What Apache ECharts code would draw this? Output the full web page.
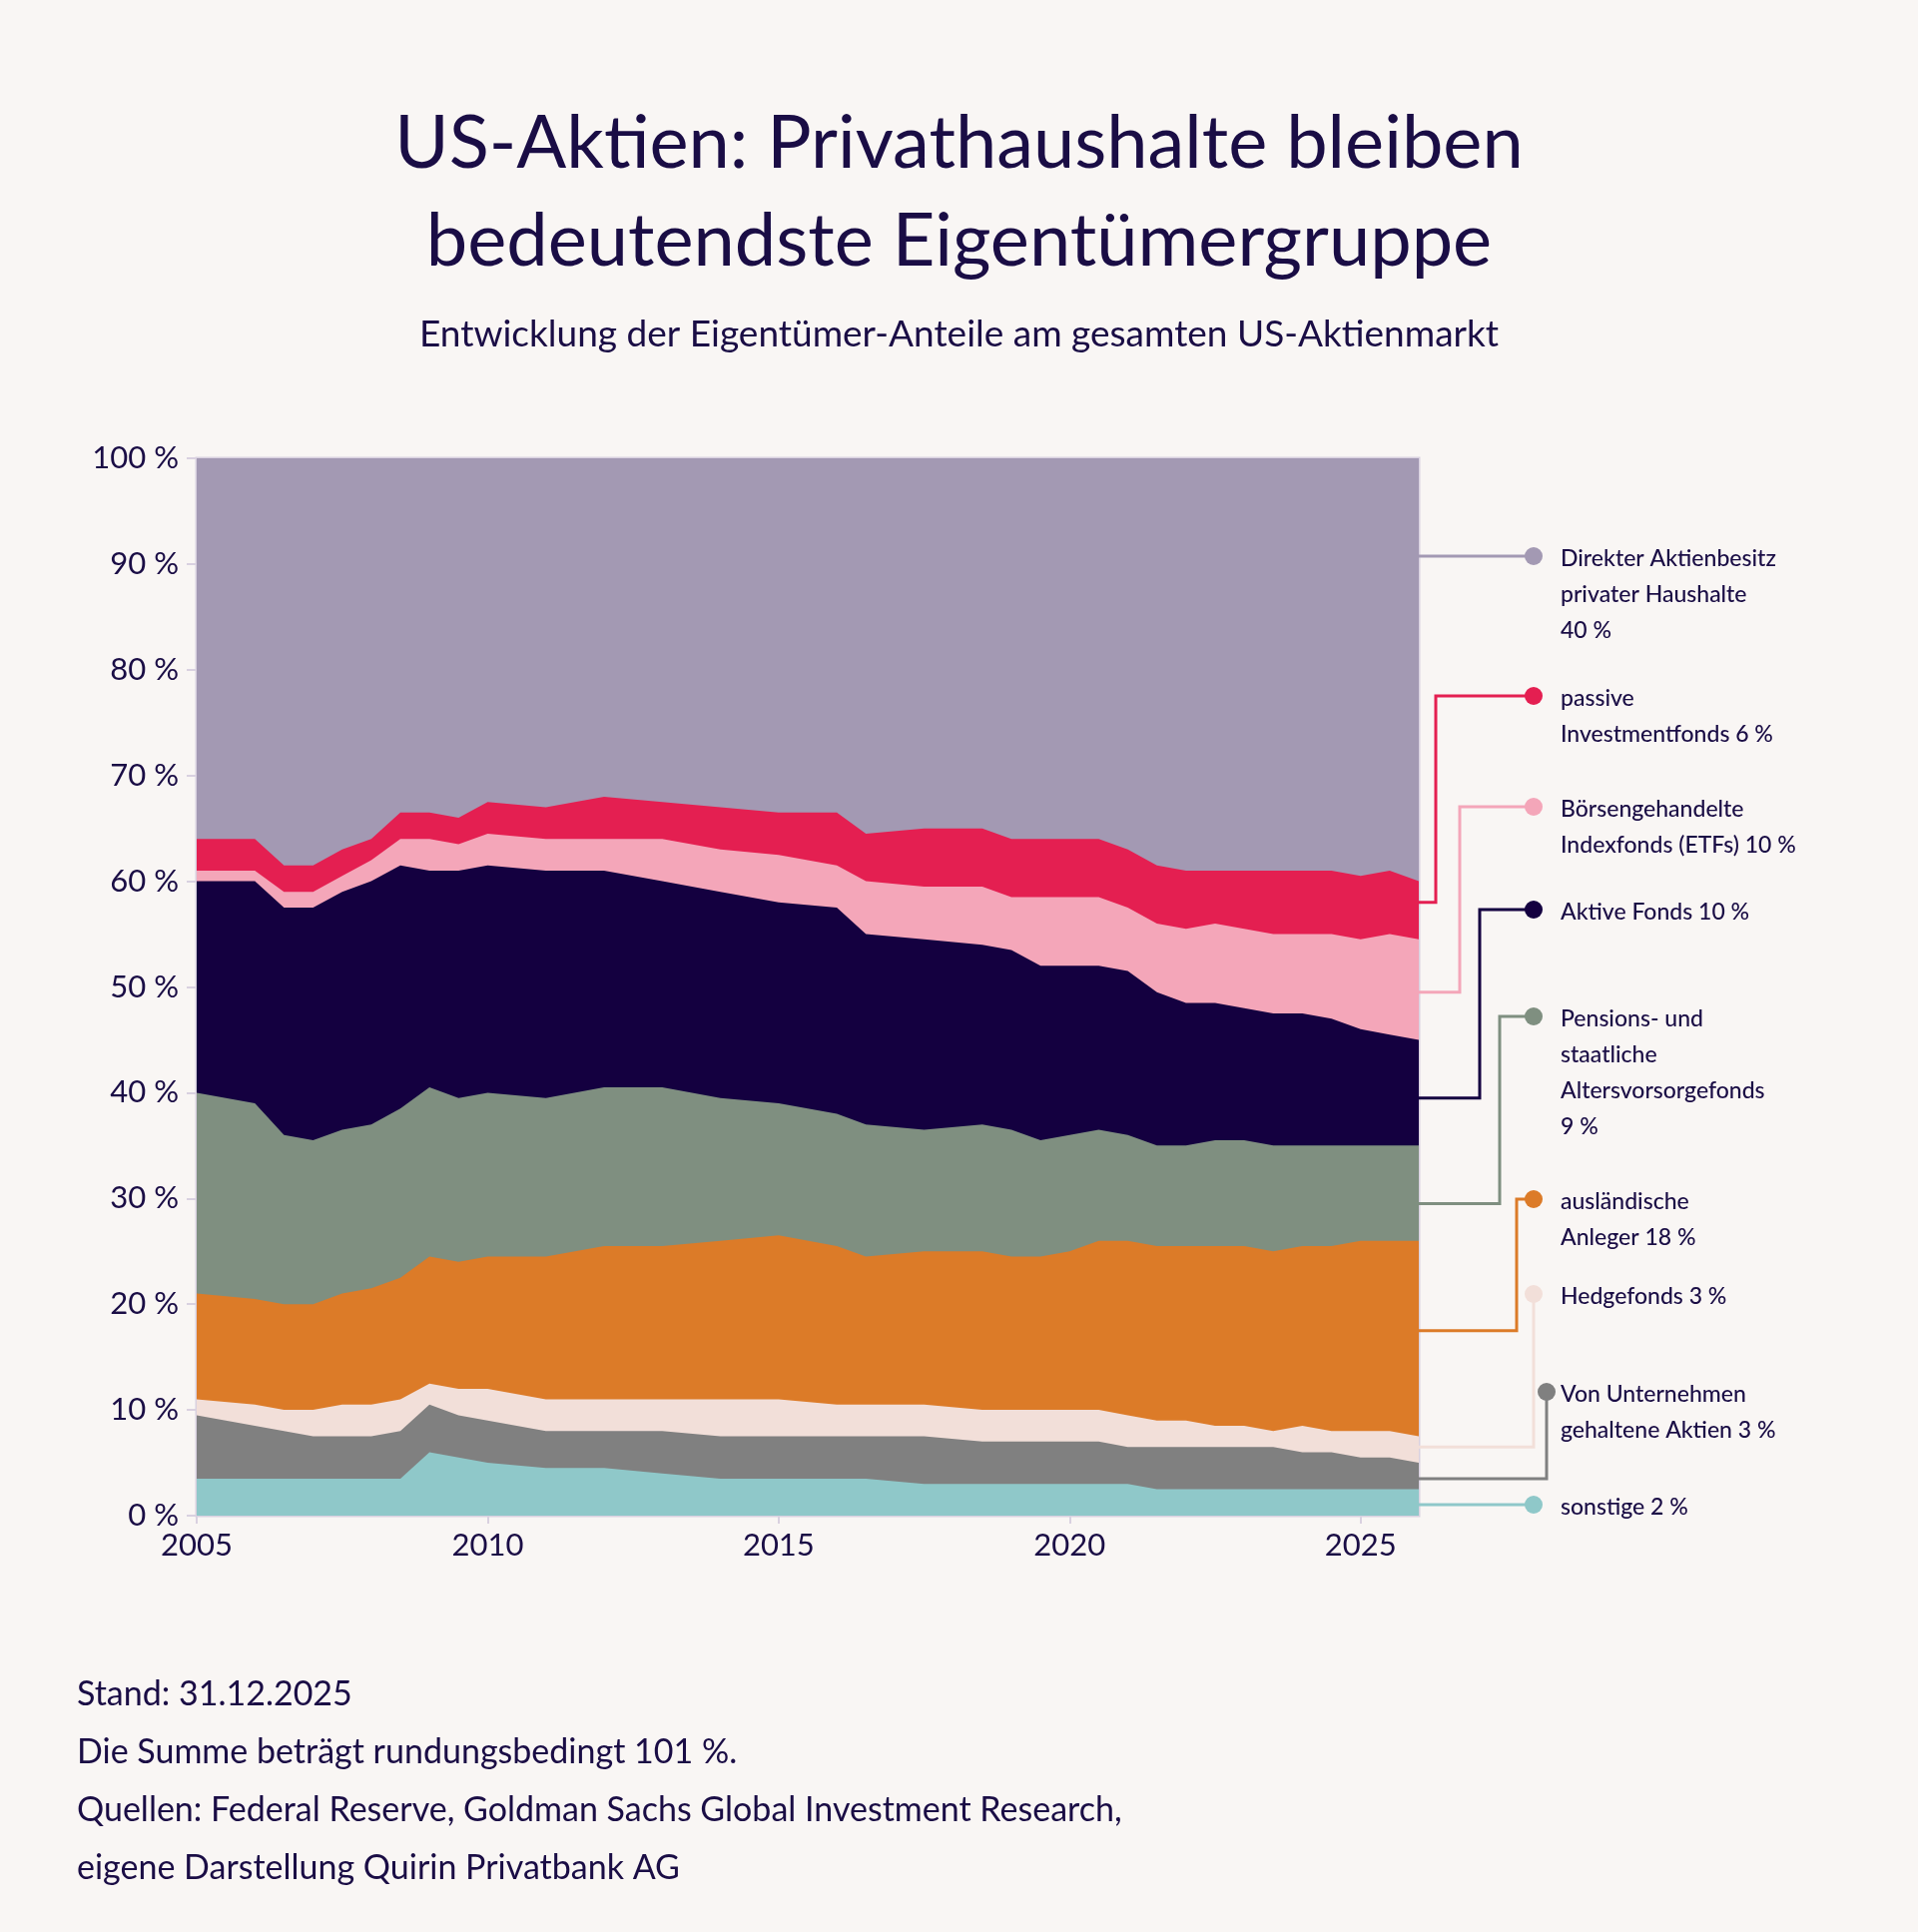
<!DOCTYPE html>
<html>
<head>
<meta charset="utf-8">
<script src="https://cdn.jsdelivr.net/npm/echarts@6/dist/echarts.min.js"></script>
<style>
  html, body { margin: 0; padding: 0; background: #f9f6f4; }
  #chart { width: 1921px; height: 1935px; }
</style>
</head>
<body>
<div id="chart"></div>
<script>
// Stichtage (Jahre) und obere Kante jeder Schicht in % (kumuliert)
const years = [2005, 2006, 2006.5, 2007, 2007.5, 2008, 2008.5, 2009, 2009.5, 2010, 2011, 2012, 2013, 2014, 2015, 2016, 2016.5, 2017.5, 2018.5, 2019, 2019.5, 2020, 2020.5, 2021, 2021.5, 2022, 2022.5, 2023, 2023.5, 2024, 2024.5, 2025, 2025.5, 2026];
const topSonstige    = [3.5, 3.5, 3.5, 3.5, 3.5, 3.5, 3.5, 6, 5.5, 5, 4.5, 4.5, 4, 3.5, 3.5, 3.5, 3.5, 3, 3, 3, 3, 3, 3, 3, 2.5, 2.5, 2.5, 2.5, 2.5, 2.5, 2.5, 2.5, 2.5, 2.5];
const topUnternehmen = [9.5, 8.5, 8, 7.5, 7.5, 7.5, 8, 10.5, 9.5, 9, 8, 8, 8, 7.5, 7.5, 7.5, 7.5, 7.5, 7, 7, 7, 7, 7, 6.5, 6.5, 6.5, 6.5, 6.5, 6.5, 6, 6, 5.5, 5.5, 5];
const topHedge       = [11, 10.5, 10, 10, 10.5, 10.5, 11, 12.5, 12, 12, 11, 11, 11, 11, 11, 10.5, 10.5, 10.5, 10, 10, 10, 10, 10, 9.5, 9, 9, 8.5, 8.5, 8, 8.5, 8, 8, 8, 7.5];
const topAusland     = [21, 20.5, 20, 20, 21, 21.5, 22.5, 24.5, 24, 24.5, 24.5, 25.5, 25.5, 26, 26.5, 25.5, 24.5, 25, 25, 24.5, 24.5, 25, 26, 26, 25.5, 25.5, 25.5, 25.5, 25, 25.5, 25.5, 26, 26, 26];
const topPension     = [40, 39, 36, 35.5, 36.5, 37, 38.5, 40.5, 39.5, 40, 39.5, 40.5, 40.5, 39.5, 39, 38, 37, 36.5, 37, 36.5, 35.5, 36, 36.5, 36, 35, 35, 35.5, 35.5, 35, 35, 35, 35, 35, 35];
const topAktiv       = [60, 60, 57.5, 57.5, 59, 60, 61.5, 61, 61, 61.5, 61, 61, 60, 59, 58, 57.5, 55, 54.5, 54, 53.5, 52, 52, 52, 51.5, 49.5, 48.5, 48.5, 48, 47.5, 47.5, 47, 46, 45.5, 45];
const topEtf         = [61, 61, 59, 59, 60.5, 62, 64, 64, 63.5, 64.5, 64, 64, 64, 63, 62.5, 61.5, 60, 59.5, 59.5, 58.5, 58.5, 58.5, 58.5, 57.5, 56, 55.5, 56, 55.5, 55, 55, 55, 54.5, 55, 54.5];
const topPassiv      = [64, 64, 61.5, 61.5, 63, 64, 66.5, 66.5, 66, 67.5, 67, 68, 67.5, 67, 66.5, 66.5, 64.5, 65, 65, 64, 64, 64, 64, 63, 61.5, 61, 61, 61, 61, 61, 61, 60.5, 61, 60];
const topDirekt      = years.map(() => 100);

const yTicks = [0, 10, 20, 30, 40, 50, 60, 70, 80, 90, 100];

const layers = [
  { name: 'Direkter Aktienbesitz privater Haushalte', data: topDirekt, color: '#a399b3' },
  { name: 'passive Investmentfonds', data: topPassiv, color: '#e41f51' },
  { name: 'Börsengehandelte Indexfonds (ETFs)', data: topEtf, color: '#f4a6b9' },
  { name: 'Aktive Fonds', data: topAktiv, color: '#140040' },
  { name: 'Pensions- und staatliche Altersvorsorgefonds', data: topPension, color: '#7f8f80' },
  { name: 'ausländische Anleger', data: topAusland, color: '#dc7b28' },
  { name: 'Hedgefonds', data: topHedge, color: '#f2dfd9' },
  { name: 'Von Unternehmen gehaltene Aktien', data: topUnternehmen, color: '#808080' },
  { name: 'sonstige', data: topSonstige, color: '#8fc8c9' }
];

// Beschriftung rechts: Startwert (Bandmitte), Knick-x, Punkt-y, Text
const labels = [
  { v: 91, ex: null, dy: 557, dx: 1536, text: 'Direkter Aktienbesitz\nprivater Haushalte\n40 %' },
  { v: 58, ex: 1438, dy: 697, dx: 1536, text: 'passive\nInvestmentfonds 6 %' },
  { v: 49.5, ex: 1462, dy: 808, dx: 1536, text: 'Börsengehandelte\nIndexfonds (ETFs) 10 %' },
  { v: 39.5, ex: 1482, dy: 911, dx: 1536, text: 'Aktive Fonds 10 %' },
  { v: 29.5, ex: 1502, dy: 1018, dx: 1536, text: 'Pensions- und\nstaatliche\nAltersvorsorgefonds\n9 %' },
  { v: 17.5, ex: 1519, dy: 1201, dx: 1536, text: 'ausländische\nAnleger 18 %' },
  { v: 6.5, ex: 1536, dy: 1296, dx: 1536, text: 'Hedgefonds 3 %' },
  { v: 3.5, ex: 1549, dy: 1394, dx: 1549, text: 'Von Unternehmen\ngehaltene Aktien 3 %' },
  { v: 1, ex: null, dy: 1507, dx: 1536, text: 'sonstige 2 %' }
];

const ink = '#1a0d45';
const font = 'Lato, "Noto Sans", sans-serif';
const chart = echarts.init(document.getElementById('chart'));

const option = {
  backgroundColor: '#f9f6f4',
  animation: false,
  textStyle: { fontFamily: font },
  title: [
    { text: 'US-Aktien: Privathaushalte bleiben\nbedeutendste Eigentümergruppe', left: 'center', top: 90,
      textStyle: { fontSize: 74, fontWeight: 'normal', color: ink, lineHeight: 98, fontFamily: font } },
    { text: 'Entwicklung der Eigentümer-Anteile am gesamten US-Aktienmarkt', left: 'center', top: 312,
      textStyle: { fontSize: 37, fontWeight: 'normal', color: ink, fontFamily: font } }
  ],
  grid: { left: 197, right: 500, top: 459, bottom: 417, show: true, borderColor: '#d9d1e0', borderWidth: 3, backgroundColor: 'transparent' },
  xAxis: {
    type: 'value', min: 2005, max: 2026, interval: 5,
    axisLine: { show: false }, splitLine: { show: false },
    axisTick: { show: true, length: 8, lineStyle: { color: '#d9d1e0', width: 2 } },
    axisLabel: { fontSize: 31, color: ink, margin: 14, showMaxLabel: false, formatter: v => String(v) }
  },
  yAxis: {
    type: 'value', min: yTicks[0], max: yTicks[yTicks.length - 1], interval: 10,
    axisLine: { show: false }, splitLine: { show: false },
    axisTick: { show: true, length: 10, lineStyle: { color: '#d9d1e0', width: 2 } },
    axisLabel: { fontSize: 31, color: ink, margin: 18, formatter: v => v + ' %' }
  },
  series: layers.map(l => ({
    name: l.name, type: 'line', showSymbol: false, silent: true,
    data: years.map((y, i) => [y, l.data[i]]),
    lineStyle: { width: 0 },
    areaStyle: { color: l.color, opacity: 1, origin: 'start' },
    itemStyle: { color: l.color }
  })),
  graphic: [
    { type: 'text', left: 77, top: 1668, style: { text: 'Stand: 31.12.2025\nDie Summe beträgt rundungsbedingt 101 %.\nQuellen: Federal Reserve, Goldman Sachs Global Investment Research,\neigene Darstellung Quirin Privatbank AG',
      fontSize: 34, lineHeight: 58, fill: ink, fontFamily: font } }
  ]
};
chart.setOption(option);

// Führungslinien und Beschriftungen
const xEnd = chart.convertToPixel({ gridIndex: 0 }, [2026, 0])[0];
const extra = [];
labels.forEach((lb, i) => {
  const col = layers[i].color;
  const sy = chart.convertToPixel({ gridIndex: 0 }, [2026, lb.v])[1];
  const pts = lb.ex == null
    ? [[xEnd, lb.dy], [lb.dx, lb.dy]]
    : (lb.ex === lb.dx ? [[xEnd, sy], [lb.ex, sy], [lb.dx, lb.dy]] : [[xEnd, sy], [lb.ex, sy], [lb.ex, lb.dy], [lb.dx, lb.dy]]);
  extra.push({ type: 'polyline', shape: { points: pts }, style: { stroke: col, lineWidth: 3, fill: null } });
  extra.push({ type: 'circle', shape: { cx: lb.dx, cy: lb.dy, r: 9 }, style: { fill: col } });
  extra.push({ type: 'text', x: 1563, y: lb.dy - 15, style: { text: lb.text, fontSize: 23, lineHeight: 36, fill: ink, fontFamily: font, fontWeight: 500 } });
});
chart.setOption({ graphic: option.graphic.concat(extra) });
</script>
</body>
</html>
